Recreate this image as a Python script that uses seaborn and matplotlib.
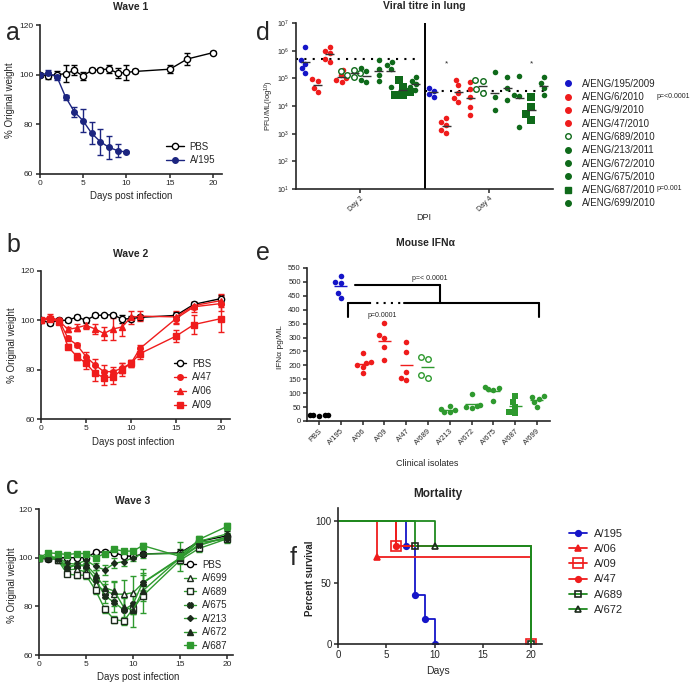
import numpy as np
import matplotlib
matplotlib.use("Agg")
import matplotlib.pyplot as plt
from matplotlib.lines import Line2D
import seaborn as sns

# ---------------- data ----------------
days = [0, 1, 2, 3, 4, 5, 6, 7, 8, 9, 10, 11, 15, 17, 20]
days_a195 = [0, 1, 2, 3, 4, 5, 6, 7, 8, 9, 10]

# Wave 1
pbs_w1 = [100, 99.6, 100, 100.4, 101.7, 99.5, 101.7, 102, 102.3, 100.6, 100.9, 101.3, 102.2, 106.3, 108.9]
pbs_w1_err = [0.8, 1.5, 1.5, 3.5, 2.0, 1.5, 0.8, 0.6, 1.5, 2.0, 3.0, 0.8, 1.5, 2.5, 0.6]
a195_w1 = [100, 100.5, 99.2, 91, 85.1, 81.5, 76.4, 73, 70.7, 69.4, 68.8]
a195_w1_err = [0.5, 1.5, 1.5, 1.0, 2.0, 4.5, 4.5, 5.3, 4.5, 2.5, 0.5]

# Wave 2
pbs_w2 = [100, 99, 100, 100, 101.4, 100, 102, 102.1, 102.3, 100.5, 100.7, 101.2, 102, 106.5, 108.8]
pbs_w2_err = [0.5, 0.8, 0.8, 0.8, 0.8, 1, 0.8, 0.6, 0.6, 1.5, 1, 1, 1.5, 1, 1.5]
a47_w2 = [100, 101, 100, 92.7, 90, 85.3, 81.9, 79.2, 79.2, 80.6, 82.6, 88.6, 100.7, 105.5, 106.8]
a47_w2_err = [0.5, 0.8, 0.8, 1, 1, 2, 2.5, 2.5, 2, 2, 1.5, 1.5, 2, 2, 3]
a06_w2 = [100, 101.5, 99.8, 96.3, 97, 98, 96.5, 94.7, 96.5, 97.3, 101.2, 101.7, 101.4, 106, 108]
a06_w2_err = [0.5, 1, 0.8, 1, 1.5, 1.5, 2, 2.5, 4.5, 3.5, 2.5, 2, 2.5, 1.5, 2.5]
a09_w2 = [100, 100.5, 99.5, 89.3, 85.3, 82.6, 78.5, 76.8, 77, 80, 82.6, 86.5, 93.6, 98.3, 100.7]
a09_w2_err = [0.5, 0.8, 0.8, 1, 1.5, 2.5, 3, 3, 3, 2.5, 1.5, 2, 2.5, 4, 5.5]

# Wave 3
pbs_w3 = [100, 99.3, 100, 100, 100, 100, 102.2, 102.4, 102, 100.8, 100.5, 101.5, 102, 106.7, 109]
pbs_w3_err = [0.5, 0.8, 0.5, 0.5, 0.5, 0.5, 0.8, 0.6, 0.8, 1, 1, 1, 1.5, 1.5, 2]
a699_w3 = [100, 100, 99, 95, 95.3, 94, 89, 86.3, 85, 85, 85.6, 89.5, 99.7, 105, 108.5]
a699_w3_err = [0.5, 0.8, 0.8, 1, 1, 1.5, 2, 3, 5, 6, 7, 4, 2, 1.5, 1.5]
a689_w3 = [100, 100, 99, 93.3, 92.8, 92.8, 86.6, 78.8, 74.5, 74, 79, 84.2, 99, 103.8, 107.8]
a689_w3_err = [0.5, 0.8, 0.8, 1, 1, 1.5, 1.5, 1.5, 1.5, 1.5, 2, 2, 1.5, 1.5, 1.5]
a675_w3 = [100, 100, 99.5, 95.7, 97, 96.4, 91, 84.3, 81.6, 78.5, 81, 89.7, 100, 105.4, 108.5]
a675_w3_err = [0.5, 0.8, 0.8, 1, 1, 1.5, 2, 3, 4, 5, 4, 3, 2, 1.5, 1.5]
a213_w3 = [100, 100.5, 100, 97.7, 97.3, 99, 96.4, 95, 97.7, 98.4, 100, 101.5, 101.7, 106.4, 107.5]
a213_w3_err = [0.5, 0.8, 0.8, 1, 1, 1, 1.5, 2, 2, 2, 1.5, 1.5, 1.5, 1.5, 1.5]
a672_w3 = [100, 100.5, 99.8, 96.4, 97, 97, 93, 87.6, 86.3, 79.6, 78.5, 86.3, 100, 106.7, 109.8]
a672_w3_err = [0.5, 0.8, 0.8, 1, 1, 1.5, 2, 3, 4, 5.5, 7, 9, 2, 1.5, 1.5]
a687_w3 = [100, 102, 101.7, 101.3, 101.7, 101.7, 100, 101.7, 103.4, 102.7, 102.7, 105, 100.5, 107.5, 112.9]
a687_w3_err = [0.5, 0.8, 0.8, 0.8, 0.8, 0.8, 1, 1, 1, 1, 1, 1, 6, 1.5, 1.5]

# Viral titre (PFU/mL)
strains_d = ["A/ENG/195/2009", "A/ENG/6/2010", "A/ENG/9/2010", "A/ENG/47/2010",
             "A/ENG/689/2010", "A/ENG/213/2011", "A/ENG/672/2010", "A/ENG/675/2010",
             "A/ENG/687/2010", "A/ENG/699/2010"]
titre_day2 = [
    [1.4e6, 4.6e5, 3.4e5, 2.3e5, 1.6e5],
    [9.3e4, 8.0e4, 4.5e4, 3.2e4],
    [1.35e6, 1.0e6, 8.0e5, 5.2e5, 4.0e5],
    [2.0e5, 1.3e5, 1.0e5, 8.5e4, 7.2e4],
    [2.0e5, 1.8e5, 1.5e5, 1.3e5, 1.1e5],
    [2.3e5, 1.8e5, 8.5e4, 7.2e4],
    [4.6e5, 2.1e5, 1.3e5, 8.0e4],
    [3.8e5, 3.0e5, 2.1e5, 4.8e4],
    [8.5e4, 5.0e4, 3.2e4, 2.6e4, 2.5e4],
    [1.1e5, 8.0e4, 6.0e4, 5.0e4, 3.8e4],
]
titre_day4 = [
    [4.5e4, 3.5e4, 2.8e4, 2.2e4],
    [3.6e3, 2.6e3, 2.0e3, 1.35e3, 1.05e3],
    [8.5e4, 5.6e4, 3.0e4, 1.9e4, 1.4e4],
    [7.2e4, 4.0e4, 2.1e4, 9.1e3, 4.7e3],
    [8.5e4, 8.0e4, 4.0e4, 3.0e4],
    [1.7e5, 2.1e4, 7.1e3],
    [1.1e5, 4.5e4, 1.6e4],
    [1.25e5, 2.5e4, 2.3e4, 1.8e3],
    [2.1e4, 9.1e3, 5.0e3, 3.2e3],
    [1.1e5, 6.8e4, 4.5e4, 2.5e4],
]
titre_ref_day2 = 4.9e5
titre_ref_day4 = 3.5e4

# Mouse IFN-alpha (pg/mL)
isolates_e = ["PBS", "A/195", "A/06", "A/09", "A/47", "A/689", "A/213", "A/672", "A/675", "A/687", "A/699"]
ifn_values = [
    [22, 20, 18, 20, 22],
    [521, 500, 496, 460, 442],
    [245, 212, 209, 201, 194, 173],
    [352, 309, 299, 266, 219],
    [284, 248, 176, 155, 147],
    [230, 223, 165, 155],
    [54, 43, 38, 32, 32],
    [97, 58, 55, 50, 47],
    [122, 119, 115, 112, 72],
    [90, 68, 50, 32, 29],
    [90, 86, 79, 68, 50],
]

# Survival (%)
surv_days_195 = [0, 7, 8, 9, 10]
surv_195 = [100, 80, 40, 20, 0]
surv_days_06 = [0, 4, 20]
surv_06 = [100, 71.4, 71.4]
surv_days_09 = [0, 6, 20]
surv_09 = [100, 80, 0]
surv_days_47 = [0, 6, 20]
surv_47 = [100, 80, 80]
surv_days_689 = [0, 8, 20]
surv_689 = [100, 80, 0]
surv_days_672 = [0, 10, 20]
surv_672 = [100, 80, 0]

# ---------------- style ----------------
sns.set_style("ticks")
plt.rcParams["font.family"] = ["Liberation Sans", "DejaVu Sans"]
plt.rcParams["axes.linewidth"] = 1.2
plt.rcParams["mathtext.default"] = "regular"

NAVY = "#1c2580"
BLUE = "#1515c8"
RED = "#ef1c1c"
GREEN = "#2f9a2f"
DKGREEN = "#0f6a1a"
DARK = "#1c2a1c"

W, H = 696, 684
fig = plt.figure(figsize=(W / 100, H / 100), dpi=100)


def px_axes(x0, y0, x1, y1):
    return fig.add_axes([x0 / W, 1 - y1 / H, (x1 - x0) / W, (y1 - y0) / H])


def ptext(x, y, s, **kw):
    kw.setdefault("ha", "center")
    kw.setdefault("va", "center")
    fig.text(x / W, 1 - y / H, s, **kw)


def style_ax(ax, fs=6):
    sns.despine(ax=ax)
    ax.tick_params(labelsize=fs, width=1.1, length=3, pad=1.5)


def px_legend(ax, handles, labels, x_marker, y_first, fs, spacing, hl=1.3, tp=0.6):
    fs_px = fs * 100 / 72
    x0 = x_marker - hl * fs_px / 2
    leg = ax.legend(handles, labels, loc="upper left", frameon=False,
                    bbox_to_anchor=(x0 / W, 1 - (y_first - 0.6 * fs_px + 2.5) / H),
                    bbox_transform=fig.transFigure, borderpad=0, borderaxespad=0,
                    fontsize=fs, handlelength=hl, handletextpad=tp,
                    labelspacing=spacing)
    return leg


def draw_weight(ax, x, y, err, label, color, marker, mfc=None, mec=None, ms=4.5):
    mfc = color if mfc is None else mfc
    mec = color if mec is None else mec
    ax.errorbar(x, y, yerr=err, fmt="none", ecolor=color, elinewidth=1,
                capsize=2.2, capthick=1, zorder=2)
    sns.lineplot(x=x, y=y, ax=ax, color=color, lw=1, marker=marker, ms=ms,
                 mfc=mfc, mec=mec, mew=1, label=label, zorder=3)


def weight_axes(ax, xmax):
    ax.set_xlim(0, xmax)
    ax.set_ylim(60, 120)
    ax.set_xticks([0, 5, 10, 15, 20])
    ax.set_yticks([60, 80, 100, 120])
    ax.set_xlabel("")
    ax.set_ylabel("")
    style_ax(ax)


# ---------------- a: wave 1 ----------------
ax_a = px_axes(39.5, 25, 222, 174)
draw_weight(ax_a, days, pbs_w1, pbs_w1_err, "PBS", "black", "o", mfc="white")
draw_weight(ax_a, days_a195, a195_w1, a195_w1_err, "A/195", NAVY, "o", ms=4)
weight_axes(ax_a, 21)
h, l = ax_a.get_legend_handles_labels()
px_legend(ax_a, h, l, 175, 145, 7, 0.39, hl=1.8)
ptext(131, 7, "Wave 1", fontsize=7.5, fontweight="bold")
ptext(131, 196, "Days post infection", fontsize=7)
ptext(10, 100, "% Original weight", fontsize=7, rotation=90)
ptext(13, 33, "a", fontsize=18)

# ---------------- b: wave 2 ----------------
ax_b = px_axes(41, 271, 230, 419)
draw_weight(ax_b, days, pbs_w2, pbs_w2_err, "PBS", "black", "o", mfc="white")
draw_weight(ax_b, days, a47_w2, a47_w2_err, "A/47", RED, "o", ms=4)
draw_weight(ax_b, days, a06_w2, a06_w2_err, "A/06", RED, "^", ms=4)
draw_weight(ax_b, days, a09_w2, a09_w2_err, "A/09", RED, "s", ms=4.5)
weight_axes(ax_b, 21)
h, l = ax_b.get_legend_handles_labels()
px_legend(ax_b, h, l, 180, 362, 7, 0.39)
ptext(131, 254, "Wave 2", fontsize=7.5, fontweight="bold")
ptext(133, 442, "Days post infection", fontsize=7)
ptext(12, 345, "% Original weight", fontsize=7, rotation=90)
ptext(13, 245, "b", fontsize=18)

# ---------------- c: wave 3 ----------------
ax_c = px_axes(39, 509, 233, 655)
draw_weight(ax_c, days, pbs_w3, pbs_w3_err, "PBS", "black", "o", mfc="white")
draw_weight(ax_c, days, a699_w3, a699_w3_err, "A/699", GREEN, "^", mfc="white", mec=DARK, ms=4)
draw_weight(ax_c, days, a689_w3, a689_w3_err, "A/689", GREEN, "s", mfc="white", mec=DARK, ms=4)
draw_weight(ax_c, days, a675_w3, a675_w3_err, "A/675", GREEN, "X", mfc=DARK, mec=DARK, ms=4)
draw_weight(ax_c, days, a213_w3, a213_w3_err, "A/213", GREEN, "D", mfc=DARK, mec=DARK, ms=3)
draw_weight(ax_c, days, a672_w3, a672_w3_err, "A/672", GREEN, "^", mfc=DARK, mec=DARK, ms=4)
draw_weight(ax_c, days, a687_w3, a687_w3_err, "A/687", GREEN, "s", ms=4.5)
weight_axes(ax_c, 20.6)
h, l = ax_c.get_legend_handles_labels()
px_legend(ax_c, h, l, 190, 563, 7, 0.36)
ptext(133, 501, "Wave 3", fontsize=7.5, fontweight="bold")
ptext(138, 677, "Days post infection", fontsize=7)
ptext(12, 585, "% Original weight", fontsize=7, rotation=90)
ptext(12, 487, "c", fontsize=18)

# ---------------- d: viral titre ----------------
ax_d = px_axes(296, 23, 553, 189)
ax_d.set_yscale("log")
d_colors = [BLUE, RED, RED, RED, DKGREEN, DKGREEN, DKGREEN, DKGREEN, DKGREEN, DKGREEN]
d_markers = ["o", "o", "o", "o", "o", "o", "o", "o", "s", "o"]
d_face = [None, None, None, None, "white", None, None, None, None, None]
d_handles = []
for i, name in enumerate(strains_d):
    for day_idx, vals in enumerate([titre_day2[i], titre_day4[i]]):
        xpos = day_idx + (i - 4.5) * 0.095
        kw = dict(edgecolor=d_colors[i], linewidth=0)
        if d_face[i] is not None:
            kw.update(facecolor=d_face[i], linewidth=1)
        sns.swarmplot(x=[xpos] * len(vals), y=vals, native_scale=True, orient="x",
                      ax=ax_d, color=d_colors[i], marker=d_markers[i],
                      size=5.5 if d_markers[i] == "s" else 4, **kw)
        gm = 10 ** np.mean(np.log10(vals))
        ax_d.hlines(gm, xpos - 0.035, xpos + 0.035, color="#333333", lw=1, zorder=4)
    d_handles.append(Line2D([], [], ls="none", marker=d_markers[i], color=d_colors[i],
                            mfc=d_face[i] or d_colors[i], ms=4))
ax_d.hlines(titre_ref_day2, -0.5, 0.47, color="black", lw=1.5, linestyles=(0, (1, 3)), zorder=1)
ax_d.hlines(titre_ref_day4, 0.5, 1.47, color="black", lw=1.5, linestyles=(0, (1, 3)), zorder=1)
ax_d.axvline(0.5, color="black", lw=1.4)
ax_d.text(1 + (1 - 4.5) * 0.095, 3.0e5, "*", ha="center", fontsize=6)
ax_d.text(1 + (8 - 4.5) * 0.095, 3.0e5, "*", ha="center", fontsize=6)
ax_d.set_xlim(-0.5, 1.5)
ax_d.set_ylim(10, 1e7)
ax_d.set_yticks([1e1, 1e2, 1e3, 1e4, 1e5, 1e6, 1e7])
ax_d.minorticks_off()
ax_d.set_xticks([0, 1])
ax_d.set_xticklabels(["Day 2", "Day 4"], rotation=45, ha="right", rotation_mode="anchor")
ax_d.set_xlabel("")
ax_d.set_ylabel("")
style_ax(ax_d, fs=5)
px_legend(ax_d, d_handles, strains_d, 568, 82, 7, 0.34, hl=0.8, tp=1.0)
ptext(657, 96, "p=<0.0001", fontsize=5, ha="left")
ptext(657, 188, "p=0.001", fontsize=5, ha="left")
ptext(424, 6, "Viral titre in lung", fontsize=7.5, fontweight="bold")
ptext(424, 218, "DPI", fontsize=6.5)
ptext(269, 106, "PFU/ML(log$^{10}$)", fontsize=5.5, rotation=90)
ptext(263, 33, "d", fontsize=18)

# ---------------- e: mouse IFN ----------------
ax_e = px_axes(307, 268, 550, 421)
e_colors = ["black", BLUE, RED, RED, RED, GREEN, GREEN, GREEN, GREEN, GREEN, GREEN]
e_markers = ["o", "o", "o", "o", "o", "o", "o", "o", "o", "s", "o"]
e_face = [None, None, None, None, None, "white", None, None, None, None, None]
for i, vals in enumerate(ifn_values):
    kw = dict(edgecolor=e_colors[i], linewidth=0)
    if e_face[i] is not None:
        kw.update(facecolor=e_face[i], linewidth=1)
    sns.swarmplot(x=[i] * len(vals), y=vals, native_scale=True, orient="x", ax=ax_e,
                  color=e_colors[i], marker=e_markers[i], size=4, **kw)
    if i > 0:
        ax_e.hlines(np.mean(vals), i - 0.3, i + 0.3, color=e_colors[i], lw=1, zorder=4)
# significance brackets
ax_e.plot([1.65, 5.55], [489, 489], color="black", lw=1.5)
ax_e.plot([5.55, 5.55], [489, 424], color="black", lw=1.5)
ax_e.plot([1.33, 2.3], [424, 424], color="black", lw=1.5)
ax_e.plot([2.3, 3.9], [424, 424], color="black", lw=1.5, ls=(0, (1, 2.5)))
ax_e.plot([3.9, 10.1], [424, 424], color="black", lw=1.5)
ax_e.plot([1.33, 1.33], [424, 374], color="black", lw=1.5)
ax_e.plot([10.1, 10.1], [424, 374], color="black", lw=1.5)
ax_e.text(5.1, 514, "p=< 0.0001", fontsize=5, ha="center", va="center")
ax_e.text(2.9, 381, "p=0.0001", fontsize=5, ha="center", va="center")
ax_e.set_xlim(-0.55, 10.6)
ax_e.set_ylim(0, 550)
ax_e.set_yticks(range(0, 551, 50))
ax_e.set_xticks(range(len(isolates_e)))
ax_e.set_xticklabels(isolates_e, rotation=45, ha="right", rotation_mode="anchor")
ax_e.set_xlabel("")
ax_e.set_ylabel("")
style_ax(ax_e, fs=5.5)
ptext(425, 243, "Mouse IFN\u03b1", fontsize=7.5, fontweight="bold")
ptext(427, 463, "Clinical isolates", fontsize=6.5)
ptext(281, 347, "IFN\u03b1 pg/ML", fontsize=6, rotation=90)
ptext(263, 253, "e", fontsize=18)

# ---------------- f: mortality ----------------
ax_f = px_axes(338, 508, 542, 644)
surv_series = [
    ("A/195", surv_days_195, surv_195, BLUE, "o", BLUE, BLUE, 4, slice(1, None)),
    ("A/06", surv_days_06, surv_06, RED, "^", RED, RED, 4, [1]),
    ("A/09", surv_days_09, surv_09, RED, "s", "none", RED, 7, slice(1, None)),
    ("A/47", surv_days_47, surv_47, RED, "o", RED, RED, 4, [1]),
    ("A/689", surv_days_689, surv_689, "#1f8a1f", "s", "none", DARK, 4.5, slice(1, None)),
    ("A/672", surv_days_672, surv_672, "#1f8a1f", "^", "none", DARK, 4.5, [1]),
]
for label, x, y, color, marker, mfc, mec, ms, me in surv_series:
    sns.lineplot(x=x, y=y, ax=ax_f, color=color, lw=1.3, drawstyle="steps-post",
                 marker=marker, mfc=mfc, mec=mec, ms=ms, mew=1.2, markevery=me,
                 label=label)
ax_f.set_xlim(0, 21.1)
ax_f.set_ylim(0, 111)
ax_f.set_xticks([0, 5, 10, 15, 20])
ax_f.set_yticks([0, 50, 100])
ax_f.set_xlabel("")
ax_f.set_ylabel("")
style_ax(ax_f, fs=7)
h, l = ax_f.get_legend_handles_labels()
px_legend(ax_f, h, l, 578, 533, 8, 0.47, hl=1.6)
ptext(438, 494, "Mortality", fontsize=8.5, fontweight="bold")
ptext(438, 671, "Days", fontsize=7.5)
ptext(310, 578, "Percent survival", fontsize=7, fontweight="bold", rotation=90)
ptext(293, 558, "f", fontsize=18)

fig.savefig("out.png", dpi=100)
